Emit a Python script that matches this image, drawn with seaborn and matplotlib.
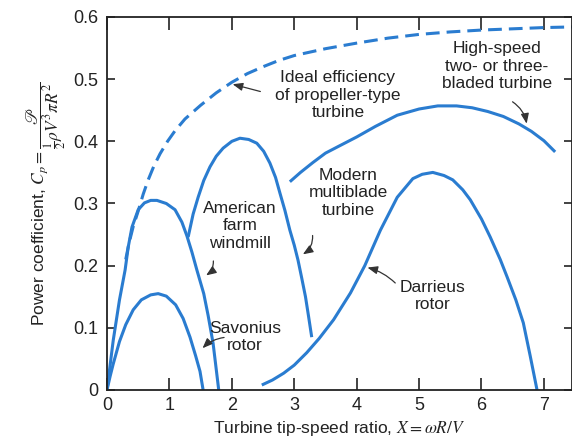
import matplotlib
matplotlib.use("Agg")
import matplotlib.pyplot as plt
import seaborn as sns

# curve data (tip-speed ratio X, power coefficient Cp)
ideal_x = [0.30, 0.35, 0.42, 0.5, 0.58, 0.66, 0.75, 0.85, 0.97, 1.09, 1.25, 1.5, 1.75, 2.0, 2.25, 2.5,
           2.75, 3.0, 3.5, 4.0, 4.5, 5.0, 5.5, 6.0, 6.5, 7.0, 7.45]
ideal_y = [0.21, 0.235, 0.263, 0.288, 0.315, 0.338, 0.360, 0.380, 0.400, 0.417, 0.436, 0.458, 0.478, 0.495,
           0.509, 0.520, 0.530, 0.538, 0.549, 0.558, 0.566, 0.572, 0.576, 0.579, 0.581, 0.583, 0.584]

american_x = [0.0, 0.1, 0.2, 0.29, 0.34, 0.40, 0.50, 0.6, 0.7, 0.8, 0.95, 1.09, 1.2, 1.28, 1.36, 1.44,
              1.55, 1.62, 1.70, 1.79]
american_y = [0.0, 0.08, 0.145, 0.193, 0.23, 0.262, 0.29, 0.301, 0.305, 0.305, 0.300, 0.29, 0.27, 0.248,
              0.222, 0.193, 0.155, 0.12, 0.075, 0.0]

savonius_x = [0.0, 0.05, 0.1, 0.2, 0.3, 0.42, 0.55, 0.7, 0.82, 0.95, 1.1, 1.22, 1.33, 1.42, 1.49, 1.54]
savonius_y = [0.0, 0.022, 0.042, 0.078, 0.105, 0.129, 0.145, 0.153, 0.155, 0.151, 0.137, 0.115, 0.085,
              0.055, 0.03, 0.0]

modern_x = [1.30, 1.38, 1.46, 1.55, 1.65, 1.75, 1.86, 2.0, 2.13, 2.27, 2.40, 2.51, 2.61, 2.70, 2.77,
            2.85, 2.93, 3.0, 3.06, 3.12, 3.18, 3.23, 3.28]
modern_y = [0.246, 0.283, 0.31, 0.337, 0.359, 0.376, 0.389, 0.400, 0.405, 0.403, 0.397, 0.384, 0.365, 0.342,
            0.317, 0.289, 0.257, 0.233, 0.209, 0.18, 0.15, 0.118, 0.085]

highspeed_x = [2.93, 3.1, 3.3, 3.5, 3.73, 4.0, 4.3, 4.65, 5.0, 5.3, 5.6, 5.85, 6.1, 6.35, 6.6, 6.8,
               7.0, 7.18]
highspeed_y = [0.335, 0.35, 0.366, 0.381, 0.393, 0.407, 0.424, 0.442, 0.452, 0.457, 0.457, 0.454, 0.448,
               0.44, 0.428, 0.416, 0.401, 0.383]

darrieus_x = [2.48, 2.65, 2.83, 3.0, 3.2, 3.4, 3.63, 3.9, 4.13, 4.38, 4.65, 4.9, 5.05, 5.22, 5.4, 5.54,
              5.7, 5.82, 6.0, 6.14, 6.3, 6.41, 6.55, 6.67, 6.78, 6.89]
darrieus_y = [0.008, 0.016, 0.027, 0.04, 0.06, 0.083, 0.113, 0.156, 0.2, 0.257, 0.31, 0.34, 0.347, 0.35,
              0.345, 0.338, 0.322, 0.306, 0.275, 0.246, 0.21, 0.182, 0.145, 0.108, 0.055, 0.0]

x_ticks = [0, 1, 2, 3, 4, 5, 6, 7]
y_ticks = [0, 0.1, 0.2, 0.3, 0.4, 0.5, 0.6]
y_tick_labels = ["0", "0.1", "0.2", "0.3", "0.4", "0.5", "0.6"]

# label text, text centre, arrow tail, arrow head, arrow bend
labels = [
    ("Ideal efficiency\nof propeller-type\nturbine", (3.70, 0.474), (2.50, 0.479), (1.97, 0.493), 0.0),
    ("High-speed\ntwo- or three-\nbladed turbine", (6.25, 0.521), (6.46, 0.466), (6.73, 0.424), -0.25),
    ("American\nfarm\nwindmill", (2.13, 0.264), (1.70, 0.212), (1.55, 0.182), -0.35),
    ("Modern\nmultiblade\nturbine", (3.86, 0.317), (3.29, 0.253), (3.10, 0.216), -0.35),
    ("Savonius\nrotor", (2.21, 0.085), (1.92, 0.085), (1.50, 0.064), 0.2),
    ("Darrieus\nrotor", (5.22, 0.151), (4.65, 0.169), (4.13, 0.198), 0.15),
]

sns.set_theme(style="ticks")
plt.rcParams["font.family"] = ["Liberation Sans", "DejaVu Sans"]
plt.rcParams["mathtext.fontset"] = "stix"

blue = "#2a7cd0"
txt = "#222222"

fig = plt.figure(figsize=(5.72, 4.46), dpi=100)
ax = fig.add_axes([107 / 572, 56 / 446, 465 / 572, 373 / 446])

for xs, ys in [(american_x, american_y), (savonius_x, savonius_y), (modern_x, modern_y),
               (highspeed_x, highspeed_y), (darrieus_x, darrieus_y)]:
    sns.lineplot(x=xs, y=ys, ax=ax, color=blue, lw=2.2,
                 solid_capstyle="butt", solid_joinstyle="round")
sns.lineplot(x=ideal_x, y=ideal_y, ax=ax, color=blue, lw=2.2)
ax.lines[-1].set_dashes([4.5, 2.3])

for text, (tx, ty), tail, head, rad in labels:
    ax.text(tx, ty, text, ha="center", va="center", fontsize=12.5,
            color=txt, linespacing=1.2)
    ax.annotate("", xy=head, xytext=tail,
                arrowprops=dict(arrowstyle="-|>,head_length=0.5,head_width=0.2",
                                color="#333333", lw=0.9,
                                connectionstyle=f"arc3,rad={rad}"))

ax.set_xlim(0, 7.45)
ax.set_ylim(0, 0.6)
ax.set_xticks(x_ticks)
ax.set_yticks(y_ticks)
ax.set_yticklabels(y_tick_labels)
ax.tick_params(axis="x", direction="in", length=9, width=1.2, top=True,
               labelsize=13, colors="#222222", pad=5)
ax.tick_params(axis="y", direction="in", length=6, width=1.2, right=True,
               labelsize=13, colors="#222222", pad=6)
for s in ax.spines.values():
    s.set_linewidth(1.3)
    s.set_color("#222222")

ax.set_xlabel(r"Turbine tip-speed ratio, $X = \omega R / V$", fontsize=12.5,
              color=txt, labelpad=4)
ax.set_ylabel(r"Power coefficient, $C_p = \dfrac{\mathscr{P}}{\frac{1}{2}\rho V^3 \pi R^2}$",
              fontsize=12.5, color=txt, labelpad=4)

fig.savefig("out.png", dpi=100)
